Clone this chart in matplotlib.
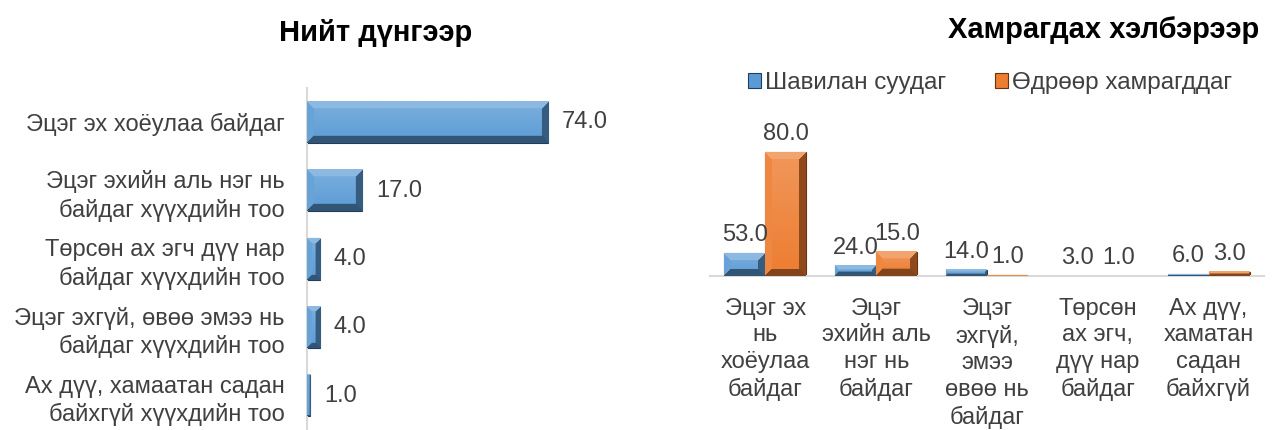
import numpy as np
import matplotlib
matplotlib.use("Agg")
import matplotlib.pyplot as plt
from matplotlib.colors import to_rgb

plt.rcParams['font.family'] = ['Liberation Sans', 'DejaVu Sans']

# left chart: totals
total_cats = ["Эцэг эх хоёулаа байдаг",
              "Эцэг эхийн аль нэг нь\nбайдаг хүүхдийн тоо",
              "Төрсөн ах эгч дүү нар\nбайдаг хүүхдийн тоо",
              "Эцэг эхгүй, өвөө эмээ нь\nбайдаг хүүхдийн тоо",
              "Ах дүү, хамаатан садан\nбайхгүй хүүхдийн тоо"]
total_vals = [74.0, 17.0, 4.0, 4.0, 1.0]

# right chart: by type
type_cats = ["Эцэг эх\nнь\nхоёулаа\nбайдаг",
             "Эцэг\nэхийн аль\nнэг нь\nбайдаг",
             "Эцэг\nэхгүй,\nэмээ\nөвөө нь\nбайдаг",
             "Төрсөн\nах эгч,\nдүү нар\nбайдаг",
             "Ах дүү,\nхаматан\nсадан\nбайхгүй"]
series_names = ["Шавилан суудаг", "Өдрөөр хамрагддаг"]
# labels shown on the chart
shav_labels = [53.0, 24.0, 14.0, 3.0, 6.0]
udr_labels = [80.0, 15.0, 1.0, 1.0, 3.0]
# bar heights as drawn in the picture (not proportional to the labels)
shav_heights = [14.6, 6.5, 3.9, 0.3, 1.1]
udr_heights = [80.0, 15.5, 0.6, 0.1, 2.6]

blue = "#5b9bd5"
orange = "#ed7d31"
txt = "#404040"

W, H = 1279, 430
fig = plt.figure(figsize=(W / 100, H / 100), dpi=100)

def frac(x0, y0, x1, y1):
    return [x0 / W, 1 - y1 / H, (x1 - x0) / W, (y1 - y0) / H]

def bevel(ax, patches, color, b=7):
    # draw a bevelled face over each bar, sized in pixels
    base = np.array(to_rgb(color))
    light = lambda k: base + (1 - base) * k
    dark = lambda k: base * (1 - k)
    for p in patches:
        bb = p.get_window_extent()
        wpx, hpx = int(round(bb.width)), int(round(bb.height))
        if wpx < 1 or hpx < 1:
            continue
        xx, yy = np.meshgrid(np.arange(wpx) + 0.5, np.arange(hpx) + 0.5)
        dl, dr, dt, db = xx, wpx - xx, yy, hpx - yy
        bw = min(b, wpx / 2.5, hpx / 2.5)
        img = np.empty((hpx, wpx, 3))
        t = yy / hpx
        face = light(0.2)[None, None, :] * (1 - t[..., None]) + base[None, None, :] * t[..., None]
        img[:] = face
        m = np.minimum(np.minimum(dl, dr), np.minimum(dt, db))
        edge = m < bw
        top = edge & (dt == m)
        bot = edge & (db == m) & ~top
        lef = edge & (dl == m) & ~top & ~bot
        rig = edge & (dr == m) & ~top & ~bot & ~lef
        img[top] = light(0.3)
        img[bot] = dark(0.45)
        img[lef] = light(0.08)
        img[rig] = dark(0.4)
        x0, y0 = p.get_x(), p.get_y()
        ax.imshow(img, extent=(x0, x0 + p.get_width(), y0 + p.get_height(), y0),
                  aspect="auto", interpolation="bilinear", zorder=3,
                  origin="upper" if ax.yaxis_inverted() else "lower")

# ---- left chart
ax1 = fig.add_axes(frac(307, 88, 620, 430))
y = np.arange(len(total_vals))
bars1 = ax1.barh(y, total_vals, height=0.6, color=blue, edgecolor="#1f3e62", linewidth=0.8, zorder=2)
for yi, v in zip(y, total_vals):
    ax1.annotate(f"{v:.1f}", (v, yi), xytext=(10, 0), textcoords="offset points",
                 va="center", ha="left", fontsize=17, color=txt)
ax1.set_xlim(0, 96)
ax1.set_ylim(4.5, -0.5)
ax1.set_autoscale_on(False)
ax1.set_yticks(y)
ax1.set_yticklabels(total_cats, fontsize=17, color=txt, ha="right", linespacing=1.3)
ax1.tick_params(axis="y", length=0, pad=16)
ax1.set_xticks([])
for s in ["top", "right", "bottom"]:
    ax1.spines[s].set_visible(False)
ax1.spines["left"].set_color("#d9d9d9")
ax1.spines["left"].set_linewidth(1.5)
fig.text(376 / W, 1 - 33 / H, "Нийт дүнгээр", ha="center", va="center",
         fontsize=21, fontweight="bold", color="black")

# ---- right chart
ax2 = fig.add_axes(frac(710, 276 - 139.5, 1264, 276))
x = np.arange(len(type_cats))
bw = 0.37
b1 = ax2.bar(x - bw / 2, shav_heights, bw, color=blue, edgecolor="#1f3e62", linewidth=0.8,
             label=series_names[0], zorder=2)
b2 = ax2.bar(x + bw / 2, udr_heights, bw, color=orange, edgecolor="#6b3210", linewidth=0.8,
             label=series_names[1], zorder=2)
for xi, h, lab in zip(x - bw / 2, shav_heights, shav_labels):
    ax2.annotate(f"{lab:.1f}", (xi, h), xytext=(0, 5), textcoords="offset points",
                 ha="center", va="bottom", fontsize=17, color=txt, zorder=5)
for xi, h, lab in zip(x + bw / 2, udr_heights, udr_labels):
    ax2.annotate(f"{lab:.1f}", (xi, h), xytext=(0, 5), textcoords="offset points",
                 ha="center", va="bottom", fontsize=17, color=txt, zorder=5)
ax2.set_xlim(-0.5, 4.5)
ax2.set_ylim(0, 90)
ax2.set_autoscale_on(False)
ax2.set_yticks([])
ax2.set_xticks(x)
ax2.set_xticklabels(type_cats, fontsize=17, color=txt, linespacing=1.28, va="top")
ax2.tick_params(axis="x", length=0, pad=15.5)
for s in ["top", "right", "left"]:
    ax2.spines[s].set_visible(False)
ax2.spines["bottom"].set_color("#d9d9d9")
ax2.spines["bottom"].set_linewidth(1.5)
ax2.patch.set_alpha(0)

fig.canvas.draw()
bevel(ax1, bars1, blue)
bevel(ax2, b1, blue)
bevel(ax2, b2, orange)

fig.legend(handles=[b1, b2], loc="center", bbox_to_anchor=(990 / W, 1 - 83 / H),
           ncol=2, frameon=False, fontsize=17.5, handlelength=0.55, handleheight=0.55,
           handletextpad=0.15, columnspacing=2.0, labelcolor=txt)
fig.text(1104 / W, 1 - 30 / H, "Хамрагдах хэлбэрээр", ha="center", va="center",
         fontsize=21, fontweight="bold", color="black")

fig.savefig("out.png", dpi=100)
